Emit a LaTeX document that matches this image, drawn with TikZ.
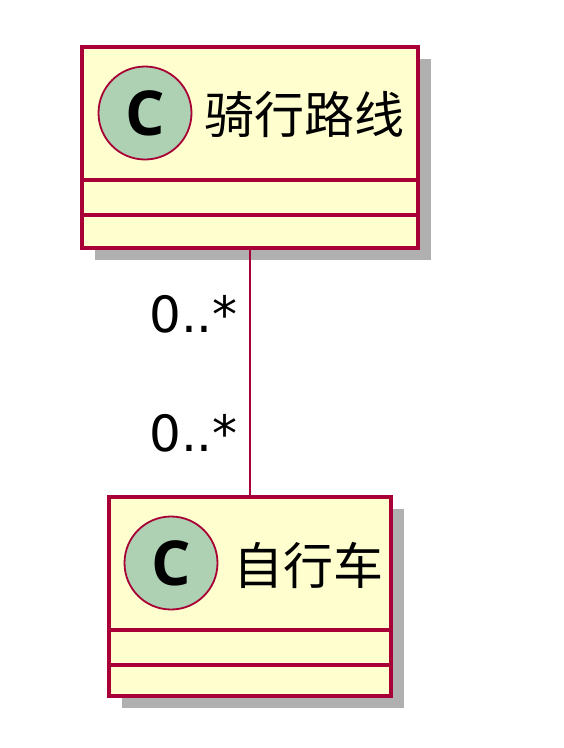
\documentclass[tikz,border=0pt]{standalone}
\usepackage{fontspec}
\setmainfont{Noto Sans}
\newfontfamily\cjk{Noto Sans CJK SC}
\newfontfamily\badgefont{Open Sans}
\newfontfamily\multfont{DejaVu Sans}
\usepackage{tikz}
\usetikzlibrary{positioning,shadows}
\definecolor{umlborder}{HTML}{A80036}
\definecolor{umlfill}{HTML}{FEFECE}
\definecolor{umlbadge}{HTML}{ADD1B2}
\definecolor{umlshadow}{HTML}{B0B0B0}
\tikzset{
  classbox/.style={draw=umlborder,line width=4.5pt,fill=umlfill,inner sep=0pt,
                   drop shadow={shadow xshift=13pt,shadow yshift=-12pt,fill=umlshadow,opacity=1}},
  badge/.style={circle,draw=umlborder,line width=1.8pt,fill=umlbadge,inner sep=0pt,
                minimum size=93pt,font=\badgefont\bfseries\fontsize{62}{62}\selectfont},
  cname/.style={anchor=west,inner sep=0pt,font=\cjk\fontsize{50}{50}\selectfont},
  mult/.style={anchor=east,inner sep=0pt,font=\multfont\fontsize{50}{50}\selectfont},
  sep/.style={draw=umlborder,line width=4.5pt},
  assoc/.style={draw=umlborder,line width=1.6pt}
}
\begin{document}
\begin{tikzpicture}[x=1pt,y=-1pt]
  \useasboundingbox (0,0) rectangle (564,748);
  % classes
  \node[classbox,minimum width=336pt,minimum height=201pt] (route) at (250,147.5) {};
  \node[classbox,minimum width=282pt,minimum height=199pt] (bike) at (250,596.5) {};

  \node[badge] (routeC) at (145,113) {C};
  \node[cname] (routeN) at (204,115) {骑行路线};
  \node[badge] (bikeC) at (171,563) {C};
  \node[cname] (bikeN) at (233,565) {自行车};

  % attribute / method compartments
  \draw[sep] (route.west |- 0,180) -- (route.east |- 0,180);
  \draw[sep] (route.west |- 0,215) -- (route.east |- 0,215);
  \draw[sep] (bike.west |- 0,630) -- (bike.east |- 0,630);
  \draw[sep] (bike.west |- 0,665) -- (bike.east |- 0,665);

  % association
  \draw[assoc] (route.south) -- (bike.north);
  \node[mult] (routeM) at (238,314) {0..*};
  \node[mult] (bikeM) at (238,433) {0..*};
\end{tikzpicture}
\end{document}
